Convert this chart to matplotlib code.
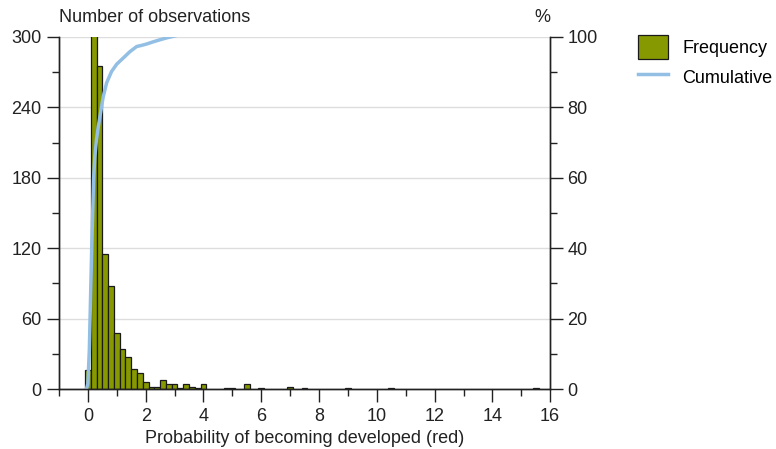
import numpy as np
import matplotlib.pyplot as plt
from matplotlib.ticker import MultipleLocator

plt.rcParams['font.family'] = ['Liberation Sans', 'DejaVu Sans']

# histogram bins (centre of each bar) and counts
bin_centers = [0.0, 0.2, 0.4, 0.6, 0.8, 1.0, 1.2, 1.4, 1.6, 1.8, 2.0, 2.2, 2.4,
               2.6, 2.8, 3.0, 3.2, 3.4, 3.6, 3.8, 4.0, 4.8, 5.0, 5.5, 6.0,
               7.0, 7.5, 9.0, 10.5, 15.5]
counts = [16, 330, 275, 115, 88, 48, 34, 27, 17, 14, 6, 2, 2,
          8, 4, 4, 1, 4, 2, 1, 4, 1, 1, 4, 1,
          2, 1, 1, 1, 1]

# cumulative share (%)
cum_x = [-0.05, 0.0, 0.05, 0.13, 0.2, 0.24, 0.3, 0.36, 0.45, 0.53, 0.65,
         0.82, 1.0, 1.22, 1.45, 1.69, 1.85, 2.03, 2.25, 2.49, 2.75, 3.01]
cum_pct = [0, 1.5, 11, 39, 60, 66, 71, 74.5, 79, 83, 87,
           90.2, 92.3, 94, 95.8, 97.3, 97.6, 98, 98.6, 99.2, 99.8, 100.3]

bar_color = '#879900'
line_color = '#92bfe3'
text_color = '#222222'
fs = 13

fig = plt.figure(figsize=(7.76, 4.49), dpi=100)
ax = fig.add_axes([0.076, 0.1336, 0.633, 0.784])
ax2 = ax.twinx()

ax.set_axisbelow(True)
ax.yaxis.grid(True, color='#dddddd', linewidth=1)
bars = ax.bar(bin_centers, counts, width=0.2, color=bar_color,
              edgecolor='#1a1a1a', linewidth=0.9, label='Frequency')
line, = ax2.plot(cum_x, cum_pct, color=line_color, linewidth=2.5,
                 label='Cumulative')

ax.set_xlim(-1, 16)
ax.set_ylim(0, 300)
ax2.set_ylim(0, 100)

ax.xaxis.set_major_locator(MultipleLocator(2))
ax.xaxis.set_minor_locator(MultipleLocator(1))
ax.yaxis.set_major_locator(MultipleLocator(60))
ax.yaxis.set_minor_locator(MultipleLocator(30))
ax2.yaxis.set_major_locator(MultipleLocator(20))
ax2.yaxis.set_minor_locator(MultipleLocator(10))

for a in (ax, ax2):
    a.spines['top'].set_visible(False)
    for s in a.spines.values():
        s.set_color(text_color)
        s.set_linewidth(1)
    a.tick_params(which='major', length=9, width=1, color=text_color,
                  labelsize=fs, labelcolor=text_color, direction='out')
    a.tick_params(which='minor', length=5, width=1, color=text_color,
                  direction='out')
ax.tick_params(axis='x', which='major', pad=5)

ax.set_xlabel('Probability of becoming developed (red)', fontsize=fs,
              color=text_color, labelpad=3)
fig.text(0.076, 0.943, 'Number of observations', fontsize=fs,
         color=text_color, ha='left', va='bottom')
fig.text(0.709, 0.943, '%', fontsize=fs, color=text_color,
         ha='right', va='bottom')

fig.legend([bars, line], ['Frequency', 'Cumulative'],
           loc='upper left', bbox_to_anchor=(0.801, 0.958), frameon=False,
           fontsize=fs, handlelength=1.65, handleheight=1.7,
           labelspacing=0.3, handletextpad=0.8)

fig.savefig('out.png', dpi=100)
